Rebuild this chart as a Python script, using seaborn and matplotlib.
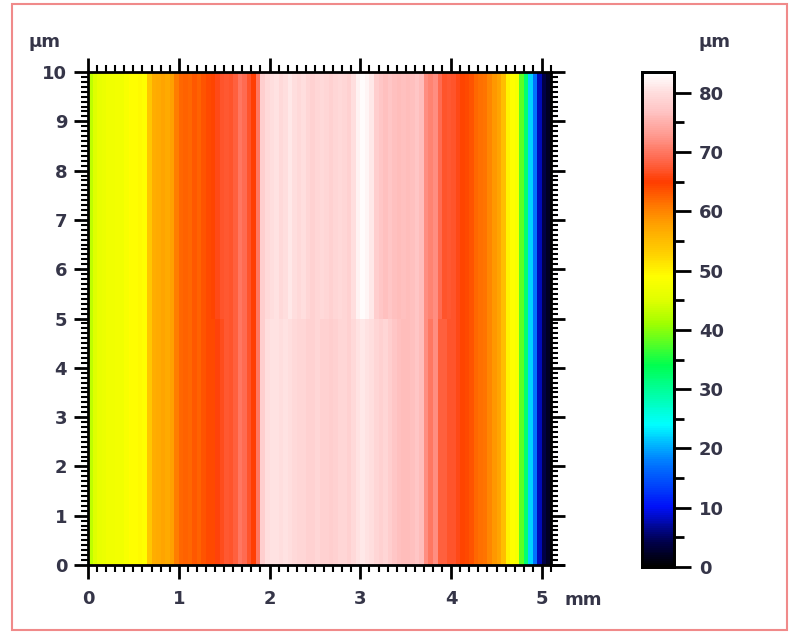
import numpy as np
import pandas as pd
import matplotlib
matplotlib.use("Agg")
import matplotlib.pyplot as plt
from matplotlib.colors import LinearSegmentedColormap
from matplotlib.patches import Rectangle
from matplotlib.lines import Line2D
import seaborn as sns

# Surface height profile (µm) across the scan, sampled every 0.05 mm
step_mm = 0.05
x_mm = [round(i * step_mm, 2) for i in range(102)]

# Upper half of the scan (y = 5 .. 10 µm)
height_upper = [
    43, 45, 46, 46.5, 47, 47, 47.5, 47, 48, 49,
    49, 49.5, 49, 54, 56.5, 57, 57.5, 57, 58, 60.5,
    62, 62.5, 62, 63, 62.5, 63.5, 64, 64.5, 66, 67,
    67.5, 67, 68, 70, 69, 67, 65, 70, 78, 79.5,
    80, 80.5, 79.5, 80, 81, 80, 79.5, 80, 79, 78.5,
    79, 79.5, 79, 78.5, 79, 79.5, 79, 78.5, 80, 82,
    83, 82.5, 81, 78, 77, 76.5, 77, 76.5, 76, 76.5,
    76, 76.5, 77, 76, 72, 71, 72, 69, 67, 67.5,
    67, 66, 64.5, 64, 63.5, 62, 61.5, 61, 60, 58.5,
    57.5, 55, 50, 49, 48, 38, 32, 22, 17, 8,
    4, 2,
]

# Lower half of the scan (y = 0 .. 5 µm)
height_lower = [
    43, 45, 46, 46.5, 47, 47, 47.5, 47, 48, 49,
    49, 49.5, 49, 54, 56.5, 57, 57.5, 57, 58, 60.5,
    62, 62.5, 62, 63, 62.5, 63.5, 64, 64, 65.5, 66.5,
    67.5, 67, 68, 70, 69, 67, 65, 70, 78, 80,
    80.5, 80.5, 80, 80.5, 80, 79.5, 79, 79, 78.5, 78.5,
    79, 78.5, 78.5, 78, 78.5, 79, 79, 78.5, 79.5, 80.5,
    81, 80.5, 80, 79, 78.5, 79, 78, 77, 76.5, 76,
    76, 76.5, 77, 76, 72, 70, 72, 68, 68, 67,
    67, 66, 64.5, 64, 63.5, 62, 61.5, 61, 60, 58.5,
    57.5, 55, 50, 49, 48, 38, 32, 22, 17, 8,
    4, 2,
]

y_labels_um = [10, 5]          # row order, top to bottom
x_ticks_mm = [0, 1, 2, 3, 4, 5]
y_ticks_um = list(range(0, 11))
cbar_ticks = list(range(0, 81, 10))
z_max = 83.5

heights = pd.DataFrame([height_upper, height_lower], index=y_labels_um, columns=x_mm)

# Height colour scale: black - blue - cyan - green - yellow - orange - red - pink - white
stops = [
    (0, "#000000"), (4, "#000048"), (10, "#0010f8"), (18, "#0080ff"),
    (24, "#00ffff"), (34, "#00ff50"), (41, "#a0ff00"), (45, "#e0ff00"),
    (49, "#ffff00"), (53, "#ffd000"), (58, "#ffa000"), (62, "#ff6a00"),
    (65, "#ff3c00"), (69, "#ff6a50"), (73, "#ff9a90"), (77, "#ffc4c4"),
    (80, "#ffdcdc"), (z_max, "#ffffff"),
]
cmap = LinearSegmentedColormap.from_list("height", [(v / z_max, c) for v, c in stops])

text_color = "#353548"
plt.rcParams["font.family"] = ["DejaVu Sans"]
plt.rcParams["font.weight"] = "bold"

W, H = 791, 634
fig = plt.figure(figsize=(W / 100, H / 100), dpi=100)

def px_box(x0, y0, x1, y1):
    return [x0 / W, 1 - y1 / H, (x1 - x0) / W, (y1 - y0) / H]

ax = fig.add_axes(px_box(88, 72, 551, 565))
cax = fig.add_axes(px_box(642, 72, 674, 567))

sns.heatmap(heights, ax=ax, cmap=cmap, vmin=0, vmax=z_max, cbar_ax=cax,
            xticklabels=False, yticklabels=False)

# Map physical units onto the heatmap cell grid
ax.set_xlim(0, len(x_mm))
ax.set_ylim(2, 0)
ax.set_xticks([m / step_mm for m in x_ticks_mm])
ax.set_xticklabels([str(m) for m in x_ticks_mm])
ax.set_xticks([v / step_mm for v in np.arange(0, 5.11, 0.1)], minor=True)
ax.set_yticks([(10 - u) / 5 for u in y_ticks_um])
ax.set_yticklabels([str(u) for u in y_ticks_um])
ax.set_yticks([(10 - u) / 5 for u in np.arange(0, 10.01, 0.1)], minor=True)

for s in ax.spines.values():
    s.set_visible(True)
    s.set_linewidth(2)
    s.set_color("black")

ax.tick_params(which="both", direction="out", top=True, right=True,
               bottom=True, left=True, colors="black",
               labelcolor=text_color, labelsize=13)
ax.tick_params(which="major", length=10, width=2, pad=5)
ax.tick_params(which="minor", length=5, width=1.5)
ax.tick_params(axis="x", which="major", pad=8)
for lbl in ax.get_xticklabels() + ax.get_yticklabels():
    lbl.set_fontweight("bold")

# Extend the bottom axis line past the last column
ax.add_line(Line2D([1, 1.025], [0, 0], transform=ax.transAxes, color="black",
                   lw=2, clip_on=False))

fig.text(564 / W, 1 - 600 / H, "mm", fontsize=13, color=text_color,
         ha="left", va="center", fontweight="bold")
fig.text(45 / W, 1 - 42 / H, "µm", fontsize=13, color=text_color,
         ha="center", va="center", fontweight="bold")
fig.text(714 / W, 1 - 42 / H, "µm", fontsize=13, color=text_color,
         ha="center", va="center", fontweight="bold")

# Colour bar
cax.set_yticks(cbar_ticks)
cax.set_yticks(list(range(5, 81, 10)), minor=True)
cax.tick_params(which="both", direction="out", right=True, left=False,
                colors="black", labelcolor=text_color, labelsize=13)
cax.tick_params(which="major", length=12, width=2, pad=6)
cax.tick_params(which="minor", length=7, width=2)
for lbl in cax.get_yticklabels():
    lbl.set_fontweight("bold")
for s in cax.spines.values():
    s.set_visible(True)
    s.set_linewidth(2)
    s.set_color("black")
cax.set_ylim(0, z_max)

# Thin frame around the whole panel
fig.add_artist(Rectangle((12 / W, 4 / H), (787 - 12) / W, (630 - 4) / H,
                         transform=fig.transFigure, fill=False,
                         edgecolor="#f08a8a", linewidth=1.5))

fig.savefig("out.png", dpi=100)
